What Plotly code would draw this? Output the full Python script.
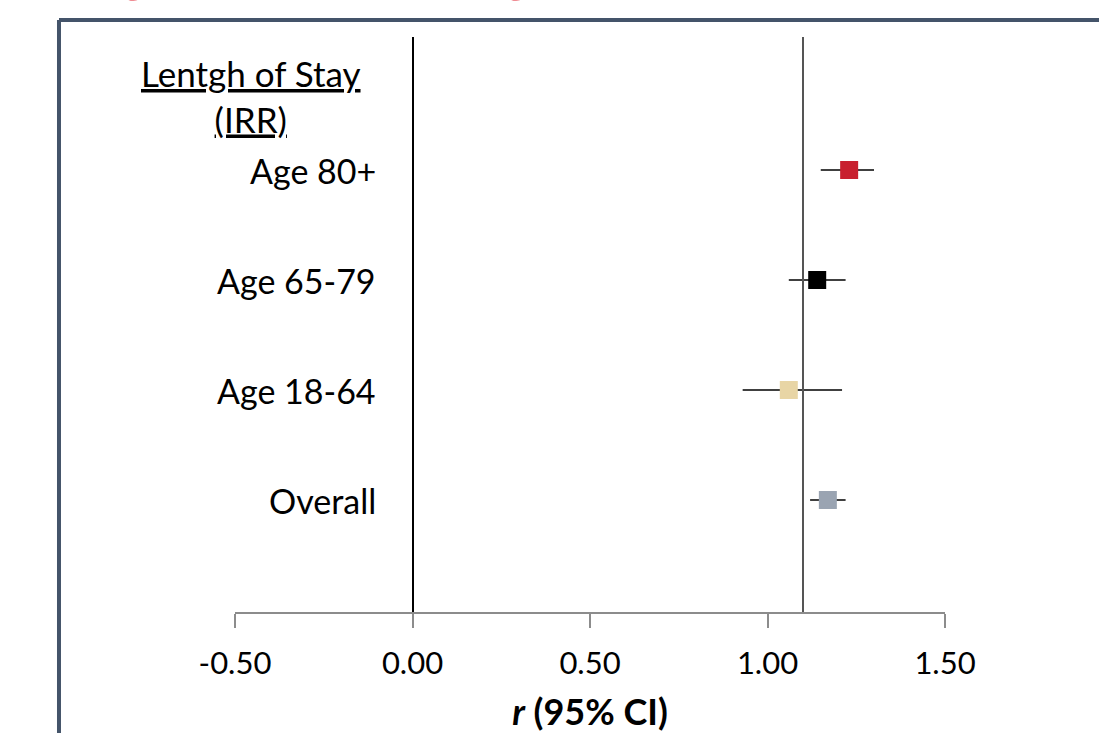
import plotly.graph_objects as go

# Data
groups = ["Age 80+", "Age 65-79", "Age 18-64", "Overall"]
y_pos = [4, 3, 2, 1]
estimates = [1.23, 1.14, 1.06, 1.17]
ci_low = [1.15, 1.06, 0.93, 1.12]
ci_high = [1.30, 1.22, 1.21, 1.22]
colors = ["#c8202f", "#000000", "#e8d5a5", "#9aa4b2"]
ref_value = 1.10
x_ticks = [-0.5, 0.0, 0.5, 1.0, 1.5]
x_ticklabels = ["-0.50", "0.00", "0.50", "1.00", "1.50"]
header = "<u>Lentgh of Stay</u><br><u>(IRR)</u>"
title_text = "<b>Age Strata and Length of Stay (IRR)</b>"

FONT = "Lato"

fig = go.Figure()
for g, y, e, lo, hi, c in zip(groups, y_pos, estimates, ci_low, ci_high, colors):
    fig.add_trace(go.Scatter(
        x=[e], y=[y], mode="markers",
        marker=dict(symbol="square", size=18, color=c, line=dict(width=0)),
        error_x=dict(type="data", symmetric=False, array=[hi - e], arrayminus=[e - lo],
                     color="#000000", thickness=1.6, width=0),
        showlegend=False, name=g,
    ))
    fig.add_annotation(x=-0.097, y=y, xref="x", yref="y", text=g, showarrow=False,
                       xanchor="right", yanchor="middle",
                       font=dict(family=FONT, size=34, color="#000000"))

fig.add_annotation(x=-0.456, y=4.677, xref="x", yref="y", text=header, showarrow=False,
                   xanchor="center", yanchor="middle", align="center",
                   font=dict(family=FONT, size=35, color="#000000"))

# partially visible slide title (cut off at the top, as in the source)
fig.add_annotation(x=0.883, y=1.0557, xref="paper", yref="paper", text=title_text,
                   showarrow=False, xanchor="right", yanchor="bottom",
                   font=dict(family=FONT, size=50, color="#e0202e"))

# reference line
fig.add_shape(type="line", xref="x", yref="paper", x0=ref_value, x1=ref_value, y0=0, y1=1,
              line=dict(color="#555555", width=2))

# outer border (top and left)
fig.add_shape(type="line", xref="paper", yref="paper", x0=-0.2479, x1=1.4, y0=1.0296, y1=1.0296,
              line=dict(color="#44546a", width=4))
fig.add_shape(type="line", xref="paper", yref="paper", x0=-0.2479, x1=-0.2479, y0=1.0296, y1=-0.4,
              line=dict(color="#44546a", width=4))

fig.update_layout(
    width=1099, height=733,
    margin=dict(l=235, r=154, t=37, b=121, autoexpand=False),
    paper_bgcolor="white", plot_bgcolor="white",
    xaxis=dict(range=[-0.5, 1.5], tickvals=x_ticks, ticktext=x_ticklabels,
               automargin=False,
               showgrid=False, zeroline=True, zerolinecolor="#000000", zerolinewidth=1.5,
               showline=True, linecolor="#8c8c8c", linewidth=1.5,
               ticks="outside", ticklen=14, tickcolor="#8c8c8c", tickwidth=1.5,
               ticklabelstandoff=9,
               tickfont=dict(family=FONT, size=31, color="#000000"),
               title=dict(text="<b><i>r</i> (95% CI)</b>", standoff=24,
                          font=dict(family=FONT, size=36, color="#000000"))),
    yaxis=dict(range=[-0.018, 5.209], showgrid=False, zeroline=False, showline=False,
               showticklabels=False, ticks="", automargin=False),
)

fig.write_html("out.html", config={"displayModeBar": False},
               post_script="document.body.style.margin='0';")
